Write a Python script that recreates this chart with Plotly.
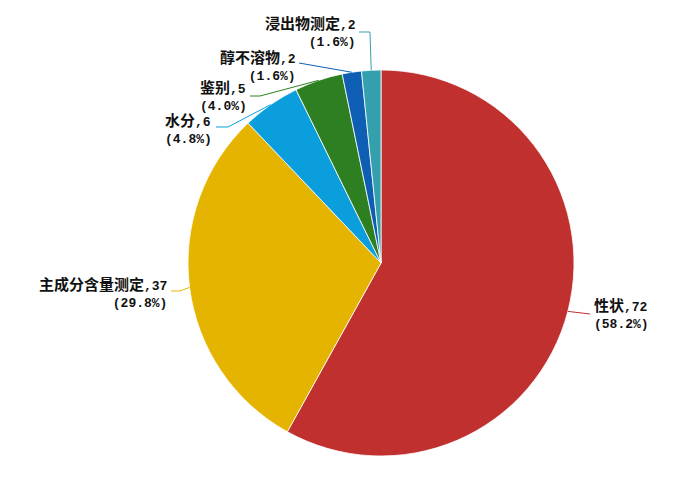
import math
import plotly.graph_objects as go

categories = ["性状", "主成分含量测定", "水分", "鉴别", "醇不溶物", "浸出物测定"]
values = [72, 37, 6, 5, 2, 2]
pct_labels = ["58.2%", "29.8%", "4.8%", "4.0%", "1.6%", "1.6%"]
colors = ["#C0302F", "#E5B400", "#0A9EDC", "#2E7F22", "#0E5FB4", "#34A0AE"]

W, H = 700, 494
OFF = 8  # page body margin
CX, CY, R = 381, 263, 193

# label anchor (pixel), alignment, and leader-line elbow/end points (pixel)
label_layout = [
    dict(x=592, y=313, xanchor="left", align="left", path=[(590, 314)]),
    dict(x=169, y=292, xanchor="right", align="right", path=[(180, 291), (171, 291)]),
    dict(x=214, y=128, xanchor="right", align="left", path=[(228, 127), (216, 127)]),
    dict(x=249, y=95, xanchor="right", align="left", path=[(260, 96), (250, 96)]),
    dict(x=298, y=65, xanchor="right", align="right", path=[(299, 63)]),
    dict(x=358, y=31, xanchor="right", align="right", path=[(370, 32), (359, 32)]),
]

def px(x):
    return (x - OFF) / W

def py(y):
    return 1 - (y - OFF) / H

fig = go.Figure()
fig.add_trace(go.Pie(
    labels=categories,
    values=values,
    sort=False,
    direction="clockwise",
    rotation=0,
    textinfo="none",
    hoverinfo="label+value+percent",
    marker=dict(colors=colors, line=dict(color="white", width=0.8)),
    domain=dict(x=[px(CX - R), px(CX + R)], y=[py(CY + R), py(CY - R)]),
    showlegend=False,
))

total = sum(values)
cum = 0
annotations = []
shapes = []
font_family = "Liberation Mono, Noto Sans CJK SC, monospace"
for cat, v, p, c, lay in zip(categories, values, pct_labels, colors, label_layout):
    mid = (cum + v / 2) / total * 2 * math.pi
    cum += v
    ex = CX + R * math.sin(mid)
    ey = CY - R * math.cos(mid)
    pts = [(ex, ey)] + lay["path"]
    d = "M " + " L ".join(f"{px(a):.5f},{py(b):.5f}" for a, b in pts)
    shapes.append(dict(type="path", path=d, xref="paper", yref="paper",
                       line=dict(color=c, width=1)))
    annotations.append(dict(
        x=px(lay["x"]), y=py(lay["y"]), xref="paper", yref="paper",
        xanchor=lay["xanchor"], yanchor="middle", align=lay["align"],
        showarrow=False,
        text=f"<span style='font-family:Noto Sans CJK SC;font-size:15px'>{cat}</span>,{v}<br>({p})",
        font=dict(family=font_family, size=13, color="#111111", weight=600),
    ))

fig.update_layout(
    width=W, height=H,
    margin=dict(l=0, r=0, t=0, b=0),
    paper_bgcolor="white",
    plot_bgcolor="white",
    annotations=annotations,
    shapes=shapes,
)

fig.write_html("out.html")
